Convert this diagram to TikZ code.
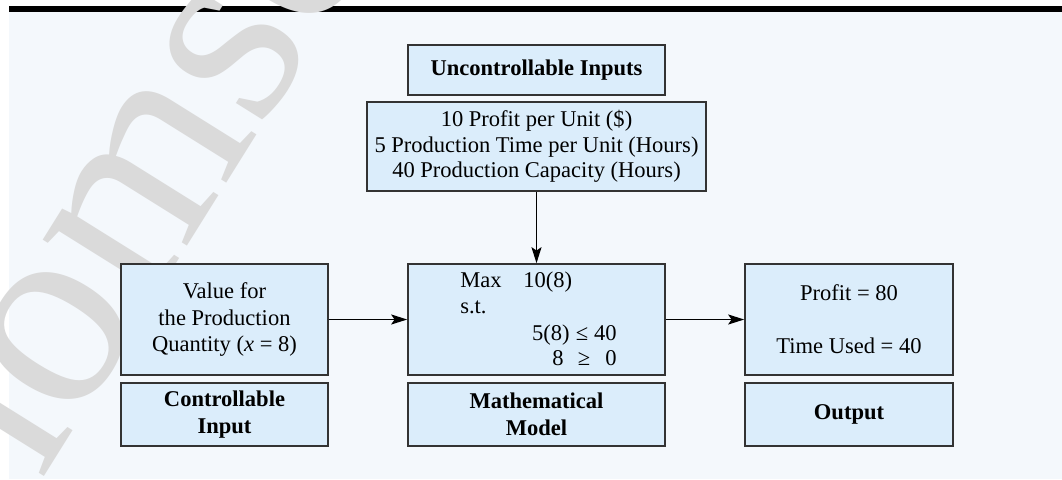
\documentclass[tikz,border=0pt]{standalone}
\usepackage{fontspec}
\setmainfont{Liberation Serif}
\usetikzlibrary{arrows.meta}
\definecolor{bgc}{HTML}{F4F8FC}
\definecolor{boxfill}{HTML}{DBEDFB}
\definecolor{boxline}{HTML}{333333}
\definecolor{wmark}{HTML}{DADADA}
\tikzset{
  box/.style={draw=boxline, fill=boxfill, line width=1.2pt, inner sep=0pt, align=center,
    font=\fontsize{16.9}{19.9}\selectfont},
  lbl/.style={box, font=\fontsize{16.9}{19.9}\selectfont\bfseries},
  txt/.style={inner sep=0pt, font=\fontsize{16.9}{19.9}\selectfont},
  arr/.style={line width=1.4pt, -{Stealth[length=12pt,width=7.5pt,inset=2.5pt]}}
}
\begin{document}
\begin{tikzpicture}[x=0.75pt,y=-0.75pt]
\useasboundingbox (0,0) rectangle (1062,479);
\fill[white] (0,0) rectangle (1062,479);
\fill[bgc] (9,12) rectangle (1062,479);
\fill[black] (9,6) rectangle (1062,12);

% watermark
\begin{scope}
\clip (0,0) rectangle (1062,479);
\node[inner sep=0pt, anchor=base west, rotate=58, text=wmark,
  font=\fontsize{205}{205}\selectfont] (wm) at (-86.6,685.3) {Thomson};
\end{scope}

% top
\node[lbl, minimum width=192.75pt, minimum height=37.5pt] (unc) at (536.5,70) {Uncontrollable Inputs};
\node[box, minimum width=254.25pt, minimum height=66.75pt, font=\fontsize{16.9}{19.1}\selectfont] (par) at (536.5,146.5)
  {10 Profit per Unit (\$)\\5 Production Time per Unit (Hours)\\40 Production Capacity (Hours)};

% main boxes
\node[box, minimum width=155.25pt, minimum height=83.25pt] (ci) at (224.5,319.5)
  {Value for\\the Production\\Quantity (\textit{x} = 8)};
\node[box, minimum width=192.75pt, minimum height=83.25pt] (mm) at (536.5,319.5) {};
\node[box, minimum width=156pt, minimum height=83.25pt] (out) at (849,319.5)
  {Profit = 80\\[19.9pt]Time Used = 40};

% labels
\node[lbl, minimum width=155.25pt, minimum height=47.25pt] (cil) at (224.5,414.5) {Controllable\\Input};
\node[lbl, minimum width=192.75pt, minimum height=47.25pt] (mml) at (536.5,414.5) {Mathematical\\Model};
\node[lbl, minimum width=156pt, minimum height=47.25pt] (outl) at (849,414.5) {Output};

% model text
\node[txt, anchor=base west] (mmax) at (460,287) {Max};
\node[txt, anchor=base west] (mobj) at (523,287) {10(8)};
\node[txt, anchor=base west] (mst) at (460,313) {s.t.};
\node[txt, anchor=base east] (mc1l) at (570,340) {5(8)};
\node[txt, anchor=base] (mc1r) at (582,340) {≤};
\node[txt, anchor=base east] (mc1v) at (617,340) {40};
\node[txt, anchor=base east] (mc2l) at (564,365) {8};
\node[txt, anchor=base] (mc2r) at (584,365) {≥};
\node[txt, anchor=base east] (mc2v) at (617,365) {0};

% arrows
\draw[arr] (par.south) -- (mm.north);
\draw[arr] (ci.east) -- (mm.west);
\draw[arr] (mm.east) -- (out.west);
\end{tikzpicture}
\end{document}
